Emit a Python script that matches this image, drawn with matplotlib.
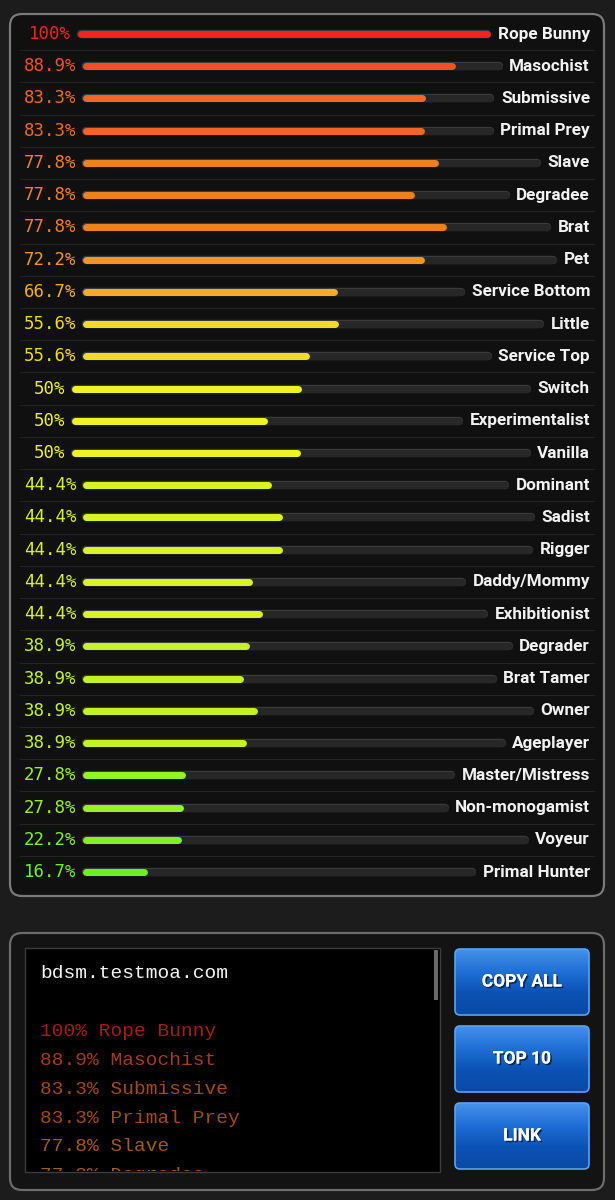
import matplotlib
matplotlib.use("Agg")
import matplotlib.pyplot as plt
from matplotlib.patches import FancyBboxPatch, Rectangle
from matplotlib.transforms import Bbox, TransformedBbox
import matplotlib.colors as mcolors
import matplotlib.patheffects as pe
import numpy as np

# ---------------- data ----------------
categories = ["Rope Bunny", "Masochist", "Submissive", "Primal Prey", "Slave",
              "Degradee", "Brat", "Pet", "Service Bottom", "Little",
              "Service Top", "Switch", "Experimentalist", "Vanilla", "Dominant",
              "Sadist", "Rigger", "Daddy/Mommy", "Exhibitionist", "Degrader",
              "Brat Tamer", "Owner", "Ageplayer", "Master/Mistress",
              "Non-monogamist", "Voyeur", "Primal Hunter"]
values = [100, 88.9, 83.3, 83.3, 77.8, 77.8, 77.8, 72.2, 66.7, 55.6, 55.6,
          50, 50, 50, 44.4, 44.4, 44.4, 44.4, 44.4, 38.9, 38.9, 38.9, 38.9,
          27.8, 27.8, 22.2, 16.7]
site = "bdsm.testmoa.com"
n_listed = 6
buttons = ["COPY ALL", "TOP 10", "LINK"]


def value_color(v, s=0.86, b=0.95):
    h = (1 - v / 100.0) * 120.0 / 360.0
    return mcolors.hsv_to_rgb((h, s, b))


W, H = 615, 1200
fig = plt.figure(figsize=(W / 100, H / 100), dpi=100, facecolor="#1c1c1c")
ax = fig.add_axes([0, 0, 1, 1])
ax.set_xlim(0, W)
ax.set_ylim(H, 0)
ax.axis("off")

# ---------------- top panel ----------------
ax.add_patch(FancyBboxPatch((10, 14), 594, 882,
                            boxstyle="round,pad=0,rounding_size=12",
                            fc="#101010", ec="#7a7a7a", lw=1.6, zorder=1))

n = len(categories)
y_first, y_last = 34, 872
dy = (y_last - y_first) / (n - 1)
ys = y_first + dy * np.arange(n)

# separators
for i in range(n - 1):
    ax.plot([20, 594], [ys[i] + dy / 2] * 2, color="#242424", lw=0.8, zorder=2)

pct_texts, name_texts = [], []
for i, (cat, v) in enumerate(zip(categories, values)):
    c = value_color(v)
    pt = ax.text(50, ys[i], f"{v:g}%", ha="center", va="center",
                 family="DejaVu Sans Mono", fontsize=12.5, color=c, zorder=5)
    nt = ax.text(590, ys[i], cat, ha="right", va="center",
                 family="Roboto", fontweight="bold", fontsize=12.3,
                 color="#f2f2f2", zorder=5)
    pct_texts.append(pt)
    name_texts.append(nt)

renderer = fig.canvas.get_renderer()
thick = 7.0            # bar thickness in px
lw = thick * 72 / 100  # points
r = thick / 2
for i, v in enumerate(values):
    pb = pct_texts[i].get_window_extent(renderer)
    nb = name_texts[i].get_window_extent(renderer)
    start = pb.x1 + 6 + r
    end = nb.x0 - 7 - r
    c = value_color(v)
    ax.hlines(ys[i], start, end, colors="#3a3a3a", linewidth=lw + 1.0,
              capstyle="round", zorder=3)
    ax.hlines(ys[i], start, end, colors="#272727", linewidth=lw,
              capstyle="round", zorder=3)
    total = end - start + 2 * r
    fill_end = start - r + v / 100.0 * total - r
    ax.hlines(ys[i], start, max(fill_end, start), colors=[c], linewidth=lw,
              capstyle="round", zorder=4)

# ---------------- bottom panel ----------------
ax.add_patch(FancyBboxPatch((10, 933), 594, 257,
                            boxstyle="round,pad=0,rounding_size=12",
                            fc="#131313", ec="#6c6c6c", lw=1.6, zorder=1))
box = Rectangle((25, 948), 415, 224, fc="black", ec="#3c3c3c", lw=1.0, zorder=2)
ax.add_patch(box)
ax.add_patch(Rectangle((433.5, 950), 4, 50, fc="#6a6a6a", ec="none", zorder=4))

clip_bb = TransformedBbox(Bbox.from_extents(25, 948, 440, 1171), ax.transData)

ax.text(40, 974, site, ha="left", va="center", family="Liberation Mono",
        fontsize=14, color="#f4f4f4", zorder=5)
for i in range(n_listed):
    v = values[i]
    t = ax.text(40, 1032 + 28.7 * i, f"{v:g}% {categories[i]}", ha="left",
                va="center", family="Liberation Mono", fontsize=14,
                color=value_color(v, s=0.82, b=0.64), zorder=5)
    t.set_clip_on(True)
    t.set_clip_box(clip_bb)

# buttons
grad = np.linspace(0, 1, 64).reshape(-1, 1)
cmap = mcolors.LinearSegmentedColormap.from_list(
    "btn", ["#4592ea", "#1f6fd6", "#0c52b4", "#0a4aa6"])
for i, lab in enumerate(buttons):
    x0, y0, bw, bh = 455, 949 + 77 * i, 134, 66
    bp = FancyBboxPatch((x0, y0), bw, bh, boxstyle="round,pad=0,rounding_size=5",
                        fc="none", ec="#5aa2f2", lw=1.2, zorder=6)
    ax.add_patch(bp)
    im = ax.imshow(grad, cmap=cmap, extent=[x0, x0 + bw, y0 + bh, y0],
                   origin="upper", aspect="auto", zorder=5)
    im.set_clip_path(bp)
    ax.text(x0 + bw / 2, y0 + bh / 2, lab, ha="center", va="center",
            family="Roboto", fontweight="bold", fontsize=12.5, color="white",
            zorder=7,
            path_effects=[pe.withSimplePatchShadow(offset=(1.2, -1.2),
                                                   shadow_rgbFace="#06224e",
                                                   alpha=0.9),
                          pe.Normal()])

ax.set_xlim(0, W)
ax.set_ylim(H, 0)
fig.savefig("out.png", dpi=100, facecolor=fig.get_facecolor())
